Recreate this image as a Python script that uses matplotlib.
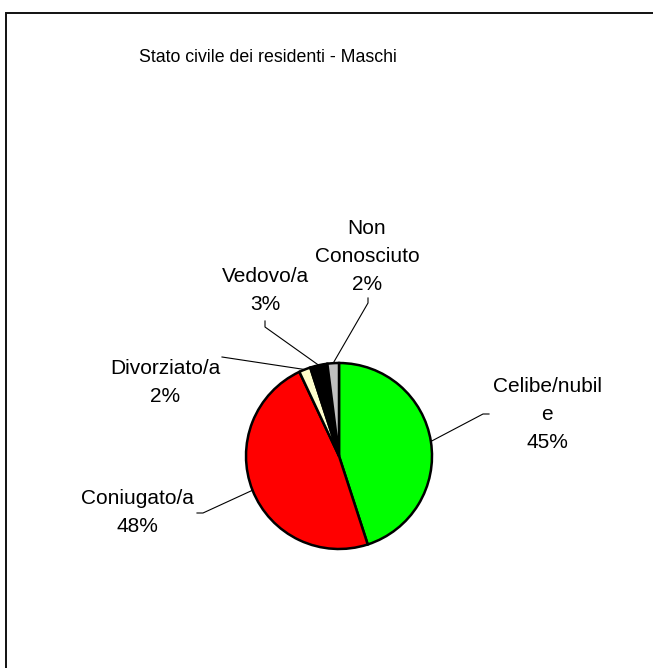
import numpy as np
import matplotlib
matplotlib.use("Agg")
from matplotlib import pyplot as plt
from matplotlib.patches import Rectangle

plt.rcParams['font.family'] = ['Liberation Sans', 'DejaVu Sans']

# Data
labels = ['Celibe/nubil\ne', 'Coniugato/a', 'Divorziato/a', 'Vedovo/a', 'Non\nConosciuto']
values = [45, 48, 2, 3, 2]
colors = ['#00FF00', '#FF0000', '#FFFFCC', '#000000', '#C0C0C0']

# Layout (pixel coords, y measured from top)
W, H = 653, 668
cx, cy, R = 339, 456, 93
label_pos = [(547, 415), (137, 513), (165, 383), (265, 290), (367, 256)]
elbows = [[(483, 414), (489, 414)],
          [(203, 513), (197, 513)],
          [(222, 357)],
          [(265, 327), (265, 321)],
          [(368, 303), (368, 298)]]

fig = plt.figure(figsize=(W / 100, H / 100), dpi=100)
ax = fig.add_axes([0, 0, 1, 1])

wedges, _ = ax.pie(values, colors=colors, startangle=90, counterclock=False,
                   center=(cx, H - cy), radius=R,
                   wedgeprops=dict(edgecolor='black', linewidth=1.8))

# pie() resets the limits, so set them afterwards
ax.set_xlim(0, W)
ax.set_ylim(0, H)
ax.set_aspect('equal')
ax.axis('off')

# frame (only top and left edge visible in the reference)
ax.add_patch(Rectangle((6, -20), W + 20, H - 13 + 20, fill=False,
                       edgecolor='#111111', linewidth=1.4))

ax.text(268, H - 58, 'Stato civile dei residenti - Maschi', ha='center',
        va='center', fontsize=12.8)

total = sum(values)
for w, lab, v, (lx, ly), pts in zip(wedges, labels, values, label_pos, elbows):
    mid = np.deg2rad((w.theta1 + w.theta2) / 2)
    x0 = cx + R * np.cos(mid)
    y0 = (H - cy) + R * np.sin(mid)
    xs = [x0] + [p[0] for p in pts]
    ys = [y0] + [H - p[1] for p in pts]
    ax.plot(xs, ys, color='black', linewidth=0.8)
    pct = round(100 * v / total)
    ax.text(lx, H - ly, f'{lab}\n{pct}%', ha='center', va='center',
            fontsize=15, linespacing=1.6)

fig.savefig('out.png', dpi=100)
